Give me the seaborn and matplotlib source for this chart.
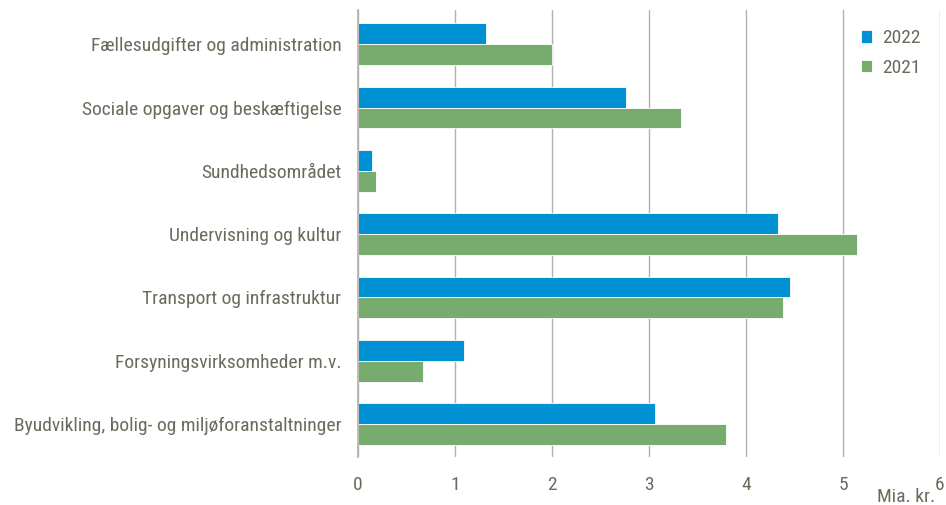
import matplotlib
matplotlib.use("Agg")
import matplotlib.pyplot as plt
import seaborn as sns
import pandas as pd
from matplotlib import font_manager

categories = [
    "Fællesudgifter og administration",
    "Sociale opgaver og beskæftigelse",
    "Sundhedsområdet",
    "Undervisning og kultur",
    "Transport og infrastruktur",
    "Forsyningsvirksomheder m.v.",
    "Byudvikling, bolig- og miljøforanstaltninger",
]
values_2022 = [1.32, 2.76, 0.14, 4.33, 4.45, 1.09, 3.06]
values_2021 = [2.00, 3.33, 0.19, 5.14, 4.38, 0.67, 3.79]
series = ["2022", "2021"]
x_ticks = [0, 1, 2, 3, 4, 5, 6]
x_label = "Mia. kr."

sns.set_theme(style="white")
names = {f.name for f in font_manager.fontManager.ttflist}
fam = [f for f in ["Liberation Sans Narrow", "Arial Narrow", "Roboto Condensed", "Liberation Sans"] if f in names]
plt.rcParams["font.family"] = fam + ["DejaVu Sans"]

text_color = "#6b6a5c"
grid_color = "#b5b2a5"
colors = {"2022": "#0091d5", "2021": "#78ab6e"}

df = pd.DataFrame({
    "cat": categories * 2,
    "value": values_2022 + values_2021,
    "year": ["2022"] * len(categories) + ["2021"] * len(categories),
})

fig = plt.figure(figsize=(9.46, 5.05), dpi=100)
ax = fig.add_axes([358 / 946, 1 - 457 / 505, (940 - 358) / 946, (457 - 10) / 505])
sns.barplot(data=df, y="cat", x="value", hue="year", hue_order=series,
            palette=colors, orient="h", width=0.66, ax=ax, saturation=1,
            edgecolor="white", linewidth=0.6, legend=True)

ax.set_xlim(0, 6)
ax.set_ylim(6.52, -0.54)
ax.set_xticks(x_ticks)
ax.set_xticklabels([str(t) for t in x_ticks], fontsize=14, color=text_color)
ax.tick_params(axis="x", length=0, pad=14)
ax.tick_params(axis="y", length=0, pad=12, labelsize=14, labelcolor=text_color)
ax.set_xlabel("")
ax.set_ylabel("")
ax.grid(axis="x", color=grid_color, linewidth=1)
ax.set_axisbelow(True)
for s in ["top", "right", "bottom"]:
    ax.spines[s].set_visible(False)
ax.spines["left"].set_color(grid_color)
ax.spines["left"].set_linewidth(1.2)

fig.text(935 / 946, 1 - 497 / 505, x_label, ha="right", va="center",
         fontsize=14, color=text_color)

leg = ax.legend(loc="upper right", bbox_to_anchor=(1.0, 1.0), frameon=False,
                fontsize=14, handlelength=0.6, handleheight=0.6,
                handletextpad=0.5, labelspacing=0.6, borderaxespad=0.6)
for t in leg.get_texts():
    t.set_color(text_color)

fig.savefig("out.png", dpi=100)
